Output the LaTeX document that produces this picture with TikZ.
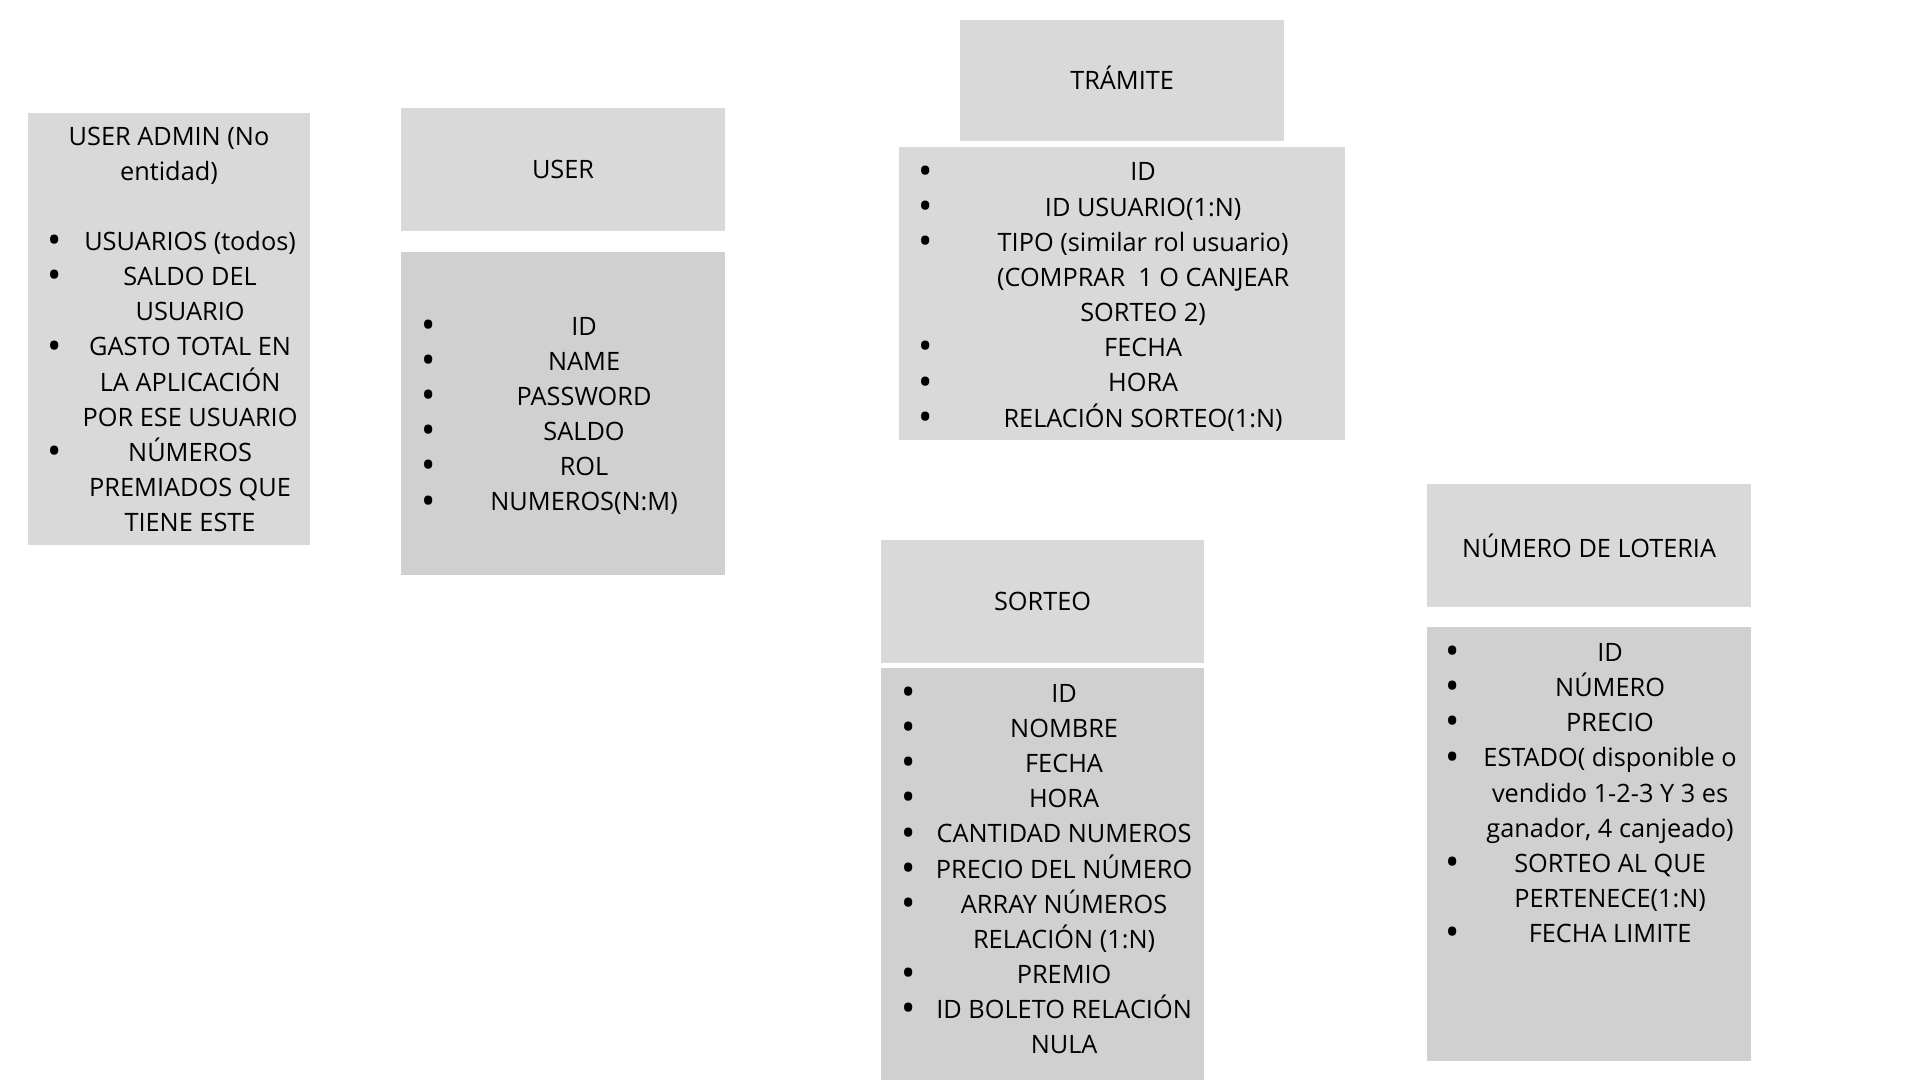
\documentclass[tikz,border=0pt]{standalone}
\usepackage{fontspec}
\setmainfont{Open Sans}
\usepackage{array}
\usetikzlibrary{positioning}

\begin{document}
\begin{tikzpicture}[x=0.01cm, y=-0.01cm, font=\fontsize{7.2}{10}\selectfont,
    head/.style={fill=headColour, inner sep=0pt, outer sep=0pt, align=center},
    body/.style={fill=bodyColour, inner sep=0pt, outer sep=0pt},
    attrs/.style={anchor=west, inner sep=0pt, outer sep=0pt}]
    \definecolor{headColour}{HTML}{D9D9D9}
    \definecolor{bodyColour}{HTML}{D0D0D0}
    \def\bp{\makebox[0pt]{\raisebox{-0.9pt}{\scalebox{1.5}{\textbullet}}}}
    \def\nl{\tabularnewline}

    % Page
    \fill[white] (0,0) rectangle (1920,1080);
    \useasboundingbox (0,0) rectangle (1920,1080);

    % User admin (no entity)
    \node[head, anchor=north west, minimum width=2.82cm, minimum height=4.32cm] (adminBox) at (28,113) {};
    \node[align=center, inner sep=0pt] (adminTitle) at (169,156) {USER ADMIN (No\\entidad)};
    \node[attrs] (adminList) at (55,384) {%
        \begin{tabular}{@{}p{0.20cm}@{}>{\centering}p{2.30cm}@{}}
        \bp & USUARIOS (todos)\nl
        \bp & SALDO DEL\\USUARIO\nl
        \bp & GASTO TOTAL EN\\LA APLICACIÓN\\POR ESE USUARIO\nl
        \bp & NÚMEROS\\PREMIADOS QUE\\TIENE ESTE\nl
        \end{tabular}};

    % User
    \node[head, anchor=north west, minimum width=3.24cm, minimum height=1.23cm] (userHead) at (401,108) {USER};
    \node[body, below=0.21cm of userHead, minimum width=3.24cm, minimum height=3.23cm] (userBody) {};
    \node[attrs] (userList) at (429,416) {%
        \begin{tabular}{@{}p{0.25cm}@{}>{\centering}p{2.60cm}@{}}
        \bp & ID\nl
        \bp & NAME\nl
        \bp & PASSWORD\nl
        \bp & SALDO\nl
        \bp & ROL\nl
        \bp & NUMEROS(N:M)\nl
        \end{tabular}};

    % Tramite
    \node[head, anchor=north west, minimum width=3.24cm, minimum height=1.21cm] (tramHead) at (960,20) {\raisebox{0.03cm}[\height][\depth]{TRÁMITE}};
    \node[head, below=0.06cm of tramHead, minimum width=4.46cm, minimum height=2.93cm] (tramBody) {};
    \node[attrs] (tramList) at (926,297) {%
        \begin{tabular}{@{}p{0.47cm}@{}>{\centering}p{3.40cm}@{}}
        \bp & ID\nl
        \bp & ID USUARIO(1:N)\nl
        \bp & TIPO (similar rol usuario)\\(COMPRAR~ 1 O CANJEAR\\SORTEO 2)\nl
        \bp & FECHA\nl
        \bp & HORA\nl
        \bp & RELACIÓN SORTEO(1:N)\nl
        \end{tabular}};

    % Sorteo
    \node[head, anchor=north west, minimum width=3.23cm, minimum height=1.23cm] (sortHead) at (881,540) {SORTEO};
    \node[body, below=0.05cm of sortHead, minimum width=3.23cm, minimum height=4.12cm] (sortBody) {};
    \node[attrs] (sortList) at (909,871) {%
        \begin{tabular}{@{}p{0.20cm}@{}>{\centering}p{2.70cm}@{}}
        \bp & ID\nl
        \bp & NOMBRE\nl
        \bp & FECHA\nl
        \bp & HORA\nl
        \bp & CANTIDAD NUMEROS\nl
        \bp & PRECIO DEL NÚMERO\nl
        \bp & ARRAY NÚMEROS\\RELACIÓN (1:N)\nl
        \bp & PREMIO\nl
        \bp & ID BOLETO RELACIÓN\\NULA\nl
        \end{tabular}};

    % Numero de loteria
    \node[head, anchor=north west, minimum width=3.24cm, minimum height=1.23cm] (numHead) at (1427,484) {NÚMERO DE LOTERIA};
    \node[body, below=0.20cm of numHead, minimum width=3.24cm, minimum height=4.34cm] (numBody) {};
    \node[attrs] (numList) at (1453,795) {%
        \begin{tabular}{@{}p{0.22cm}@{}>{\centering}p{2.70cm}@{}}
        \bp & ID\nl
        \bp & NÚMERO\nl
        \bp & PRECIO\nl
        \bp & ESTADO( disponible o\\vendido 1-2-3 Y 3 es\\ganador, 4 canjeado)\nl
        \bp & SORTEO AL QUE\\PERTENECE(1:N)\nl
        \bp & FECHA LIMITE\nl
        \end{tabular}};
\end{tikzpicture}
\end{document}
